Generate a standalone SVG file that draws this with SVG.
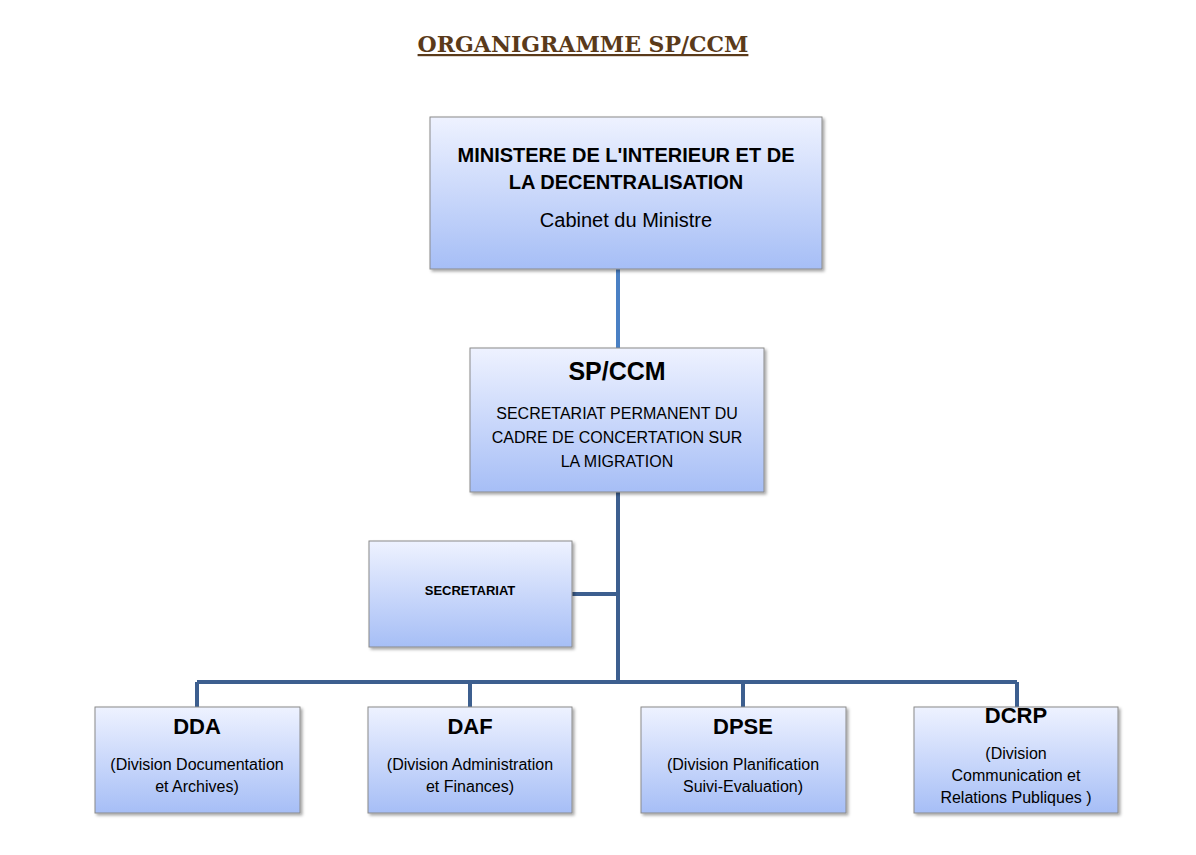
<svg xmlns="http://www.w3.org/2000/svg" width="1196" height="855" viewBox="0 0 1196 855">
<style>
.box{fill:url(#g);stroke:#8a8a8a;stroke-width:1;filter:url(#sh)}
text{font-family:"Liberation Sans",Arial,sans-serif;fill:#000;text-anchor:middle}
.b{font-weight:bold}
.c{stroke:#3d5f8f;stroke-width:4;fill:none}
</style>
<defs>
<linearGradient id="g" x1="0" y1="0" x2="0" y2="1"><stop offset="0" stop-color="#eef2ff"/><stop offset="1" stop-color="#a6bef6"/></linearGradient>
<filter id="sh" x="-5%" y="-5%" width="115%" height="120%"><feDropShadow dx="2" dy="2" stdDeviation="1.5" flood-color="#000" flood-opacity="0.35"/></filter>
</defs>
<rect width="1196" height="855" fill="#fff"/>
<text x="583" y="52" class="b" style="font-family:'DejaVu Serif',serif;font-size:22px;fill:#5a3a1a;text-decoration:underline">ORGANIGRAMME SP/CCM</text>
<g id="connectors">
<line x1="618" y1="269" x2="618" y2="348" style="stroke:#4a80c4;stroke-width:4"/>
<path class="c" d="M618 492V682M572 594H618M197 682H1017M197 682V707M470 682V707M743 682V707M1017 682V707"/>
</g>
<g id="ministere"><rect class="box" x="430" y="117" width="392" height="152"/>
<text x="626" y="162" class="b" font-size="20">MINISTERE DE L'INTERIEUR ET DE</text>
<text x="626" y="189" class="b" font-size="20">LA DECENTRALISATION</text>
<text x="626" y="227" font-size="20">Cabinet du Ministre</text></g>
<g id="spccm"><rect class="box" x="470" y="348" width="294" height="144"/>
<text x="617" y="380" class="b" font-size="25">SP/CCM</text>
<text x="617" y="419" font-size="16">SECRETARIAT PERMANENT DU</text>
<text x="617" y="443" font-size="16">CADRE DE CONCERTATION SUR</text>
<text x="617" y="467" font-size="16">LA MIGRATION</text></g>
<g id="secretariat"><rect class="box" x="369" y="541" width="203" height="106"/>
<text x="470" y="595" class="b" font-size="13">SECRETARIAT</text></g>
<g id="dda"><rect class="box" x="95" y="707" width="205" height="106"/>
<text x="197" y="734" class="b" font-size="22">DDA</text>
<text x="197" y="770" font-size="16">(Division Documentation</text>
<text x="197" y="792" font-size="16">et Archives)</text></g>
<g id="daf"><rect class="box" x="368" y="707" width="204" height="106"/>
<text x="470" y="734" class="b" font-size="22">DAF</text>
<text x="470" y="770" font-size="16">(Division Administration</text>
<text x="470" y="792" font-size="16">et Finances)</text></g>
<g id="dpse"><rect class="box" x="641" y="707" width="205" height="106"/>
<text x="743" y="734" class="b" font-size="22">DPSE</text>
<text x="743" y="770" font-size="16">(Division Planification</text>
<text x="743" y="792" font-size="16">Suivi-Evaluation)</text></g>
<g id="dcrp"><rect class="box" x="914" y="707" width="204" height="106"/>
<text x="1016" y="723" class="b" font-size="22">DCRP</text>
<text x="1016" y="759" font-size="16">(Division</text>
<text x="1016" y="781" font-size="16">Communication et</text>
<text x="1016" y="803" font-size="16">Relations Publiques )</text></g>
</svg>
